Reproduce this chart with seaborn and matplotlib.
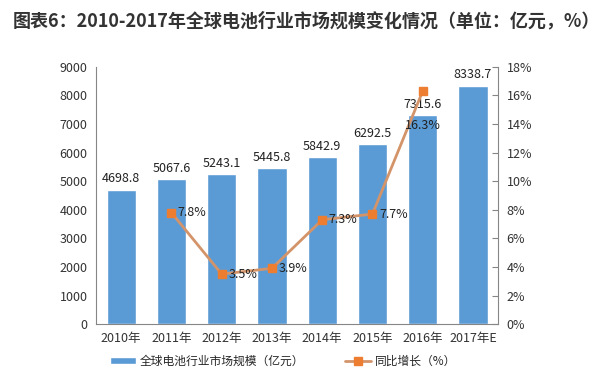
import matplotlib
matplotlib.use("Agg")
import matplotlib.pyplot as plt
import seaborn as sns
import pandas as pd

# chart data
years = ['2010年', '2011年', '2012年', '2013年', '2014年', '2015年', '2016年', '2017年E']
market_size = [4698.8, 5067.6, 5243.1, 5445.8, 5842.9, 6292.5, 7315.6, 8338.7]
growth_years = ['2011年', '2012年', '2013年', '2014年', '2015年', '2016年']
growth_pct = [7.8, 3.5, 3.9, 7.3, 7.7, 16.3]

sns.set_style('white')
plt.rcParams['font.family'] = ['Noto Sans CJK SC', 'DejaVu Sans']

df = pd.DataFrame({'year': years, 'size': market_size})

fig = plt.figure(figsize=(6.13, 3.84), dpi=100)
ax = fig.add_axes([0.1566, 0.156, 0.656, 0.67])

bar_col = '#5B9BD5'
line_col = '#D4946A'
mark_col = '#ED7D31'
axis_col = '#868686'

sns.barplot(data=df, x='year', y='size', color=bar_col, width=0.58,
            saturation=1, ax=ax, label='全球电池行业市场规模（亿元）')
if ax.get_legend() is not None:
    ax.get_legend().remove()
for i, v in enumerate(market_size):
    ax.text(i, v + 150, f'{v:.1f}', ha='center', va='bottom', fontsize=9,
            color='#222222')

ax.set_ylim(0, 9000)
ax.set_yticks(range(0, 9001, 1000))
ax.set_xlim(-0.5, len(years) - 0.5)
ax.set_xlabel('')
ax.set_ylabel('')
ax.tick_params(axis='both', length=0, labelsize=9, colors='#333333', pad=6)
for s in ['top', 'right']:
    ax.spines[s].set_visible(False)
for s in ['left', 'bottom']:
    ax.spines[s].set_color(axis_col)
    ax.spines[s].set_linewidth(0.8)

# growth line on secondary axis
ax2 = ax.twinx()
gx = [years.index(y) for y in growth_years]
ax2.plot(gx, growth_pct, color=line_col, linewidth=2, marker='s',
         markersize=6, markerfacecolor=mark_col, markeredgecolor=mark_col,
         label='同比增长（%）')
for x, v in zip(gx, growth_pct):
    if v > 15:
        ax2.text(x, v - 2.4, f'{v}%', ha='center', va='center', fontsize=9,
                 color='#222222')
    else:
        ax2.text(x + 0.13, v, f'{v}%', ha='left', va='center', fontsize=9,
                 color='#222222')
ax2.set_ylim(0, 18)
ax2.set_yticks(range(0, 19, 2))
ax2.set_yticklabels([f'{t}%' for t in range(0, 19, 2)])
ax2.tick_params(axis='y', direction='in', length=4, color=axis_col,
                labelsize=9, labelcolor='#333333', pad=6)
for s in ['top', 'left', 'bottom']:
    ax2.spines[s].set_visible(False)
ax2.spines['right'].set_color(axis_col)
ax2.spines['right'].set_linewidth(0.8)

h1, l1 = ax.get_legend_handles_labels()
h2, l2 = ax2.get_legend_handles_labels()
fig.legend(h1 + h2, l1 + l2, loc='center', bbox_to_anchor=(0.462, 0.06),
           ncol=2, frameon=False, fontsize=8.5, columnspacing=3.5,
           handlelength=2.2, handleheight=0.5, handletextpad=0.3)

fig.text(0.02, 0.945, '图表6：2010-2017年全球电池行业市场规模变化情况（单位：亿元，%）',
         fontsize=13, fontweight='bold', color='#333333', va='center')

fig.savefig('out.png', dpi=100)
